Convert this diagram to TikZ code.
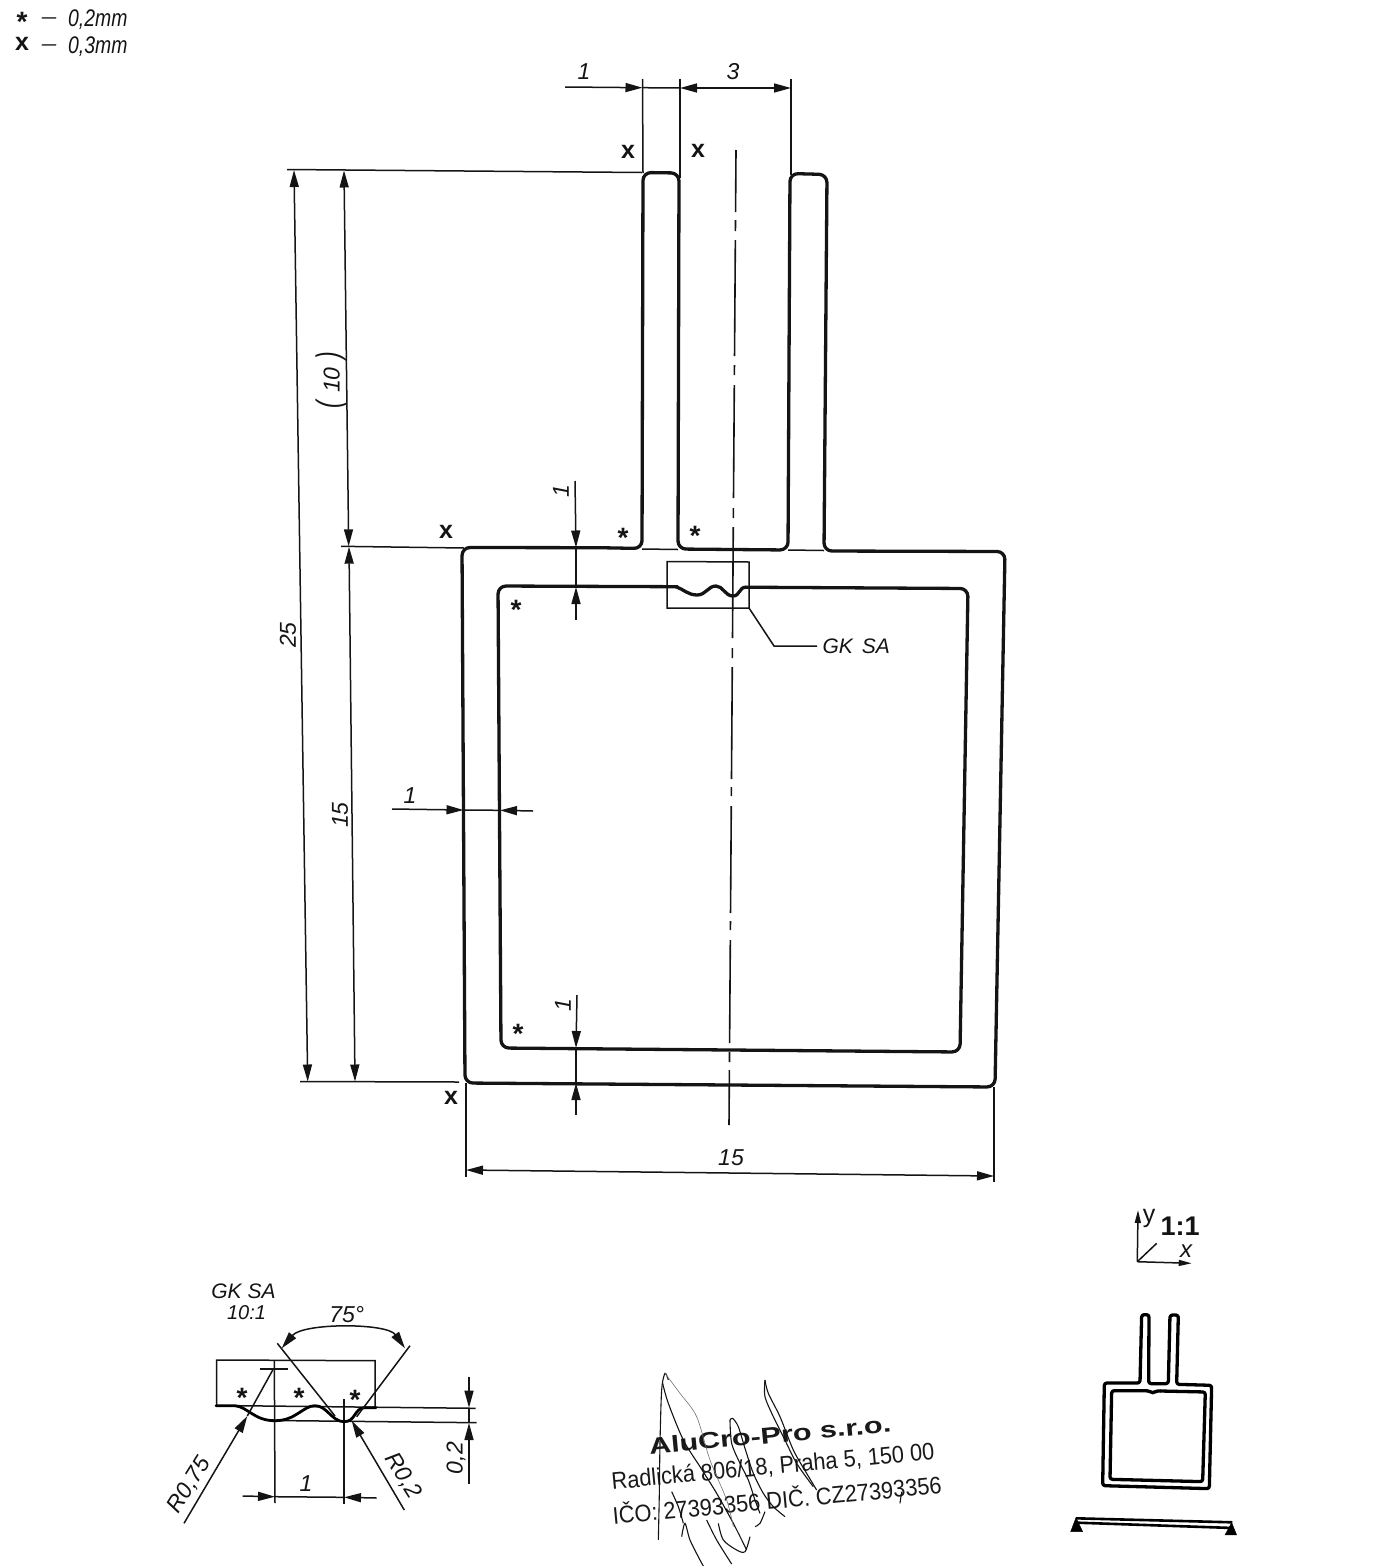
\documentclass[tikz,border=0pt]{standalone}
\usepackage{fontspec}
\usepackage{graphicx}
\setmainfont{Liberation Sans}
\usetikzlibrary{arrows.meta}
\definecolor{ink}{HTML}{141414}
\newcommand{\tallbox}[1]{\scalebox{0.97}[1.2]{#1}}
\tikzset{
  thick line/.style={draw=ink,line width=3.3pt,line join=round,rounded corners=8pt},
  thick curve/.style={draw=ink,line width=3.3pt,line join=round},
  fine/.style={draw=ink,line width=1.5pt},
  dim/.style={draw=ink,line width=1.5pt,>={Triangle[length=17pt,width=9pt]}},
  centre line/.style={draw=ink,line width=1.6pt},
  lab/.style={font=\fontsize{23}{24}\selectfont\itshape,inner sep=0pt,text=ink},
  mark star/.style={font=\fontsize{28}{28}\selectfont\bfseries,inner sep=0pt,text=ink},
  mark x/.style={font=\fontsize{25}{26}\selectfont\bfseries,inner sep=0pt,text=ink},
  legend/.style={font=\fontsize{20}{22}\selectfont\itshape,inner sep=0pt,text=ink},
  stamp/.style={font=\fontsize{24}{26}\selectfont,inner sep=0pt,text=black!90,rotate=5.4},
  sign/.style={draw=ink,line width=1.1pt},
  sign thin/.style={draw=ink!60,line width=.6pt},
  mini/.style={draw=black,line width=3.3pt,line join=round,rounded corners=2.5pt},
}
\begin{document}
\begin{tikzpicture}[x=1pt,y=-1pt]
\useasboundingbox (0,0) rectangle (1388,1566);

% legend
\node[mark star] (ls) at (22,22) {*};
\node[legend] (ld1) at (49,21) {\scalebox{1.3}[1]{\textendash}};
\node[legend,anchor=west] (lt1) at (68,20) {\tallbox{0,2mm}};
\node[mark x] (lx) at (22,44) {x};
\node[legend] (ld2) at (49,48) {\scalebox{1.3}[1]{\textendash}};
\node[legend,anchor=west] (lt2) at (68,47) {\tallbox{0,3mm}};

% centre line
\foreach \a/\b in {150/212,220/231,240/356,365/375,385/498,508/518,527/638,648/658,667/779,787/796,806/913,921/930,940/1043,1052/1062,1070/1125}
  \draw[centre line] ({736-(\a-150)*7/975},\a) -- ({736-(\b-150)*7/975},\b);

% profile outer
\draw[thick line] (600,547.7) -- (642,548.5) -- (643,172.5) -- (679,173) -- (678,549) -- (788,550) -- (790,173.5) -- (827,174.5) -- (824,551) -- (1005,551.5) -- (995,1087) -- (465,1083) -- (462,547.5) -- cycle;
\draw[fine] (642,549) -- (678,549.5);
\draw[fine] (788,550) -- (824,550.5);
% profile inner
\draw[thick line] (745,587.2) -- (968,588.5) -- (960,1052) -- (501,1048) -- (498,586) -- (678,586.7);
\draw[thick curve,line cap=round] (676,586.7)
  .. controls (683,589) and (688,595) .. (697,595)
  .. controls (706,595) and (708,586) .. (716,586)
  .. controls (723,586) and (725,596) .. (733,596)
  .. controls (740,596) and (739,587) .. (746,587.2);
% detail frame and leader
\draw[fine] (667,561.5) -- (749,562) -- (749,608) -- (667,608) -- cycle;
\node[lab,anchor=west,outer sep=5.5pt,font=\fontsize{21}{24}\selectfont\itshape] (gk) at (817,646) {GK\hspace{9pt}SA};
\coordinate (lead) at (749,608);
\draw[fine] (lead) -- (774,646) -- (gk.west);

% dimension top
\draw[fine] (642.5,79) -- (643,173);
\draw[fine] (680,79) -- (680,178);
\draw[fine] (791,79) -- (791,175);
\draw[dim,->] (565,87) -- (642.5,87.7);
\draw[dim] (642.5,87.7) -- (680,88);
\draw[dim,<->] (680,88) -- (791,88);
\node[lab] (t1) at (584,72) {1};
\node[lab] (t3) at (733,72) {3};

% dimensions left
\draw[fine] (287,169.5) -- (642,172.5);
\draw[fine] (341,546.3) -- (464,548);
\draw[fine] (300,1081.5) -- (459,1082);
\draw[dim,<->] (294,170) -- (307.7,1081.5);
\draw[dim,<->] (344,170.5) -- (348.7,546.3);
\draw[dim,<->] (349,546.7) -- (355,1081.5);
\node[lab,rotate=90] (t25) at (288,635) {25};
\node[lab,rotate=90] (t15l) at (340,815) {15};
\node[lab,rotate=90] (t10) at (331,380) {\scalebox{1}[1.45]{(}\hspace{8pt}10\hspace{8pt}\scalebox{1}[1.45]{)}};

% wall thickness dims
\draw[dim,->] (575,481) -- (576,547.5);
\draw[fine] (576,547.5) -- (576,587);
\draw[dim,<-] (576,587) -- (576,620);
\node[lab,rotate=90] (tw1) at (561,491) {1};
\draw[dim,->] (577,995) -- (576,1048);
\draw[fine] (576,1048) -- (576,1083);
\draw[dim,<-] (576,1083) -- (576,1115);
\node[lab,rotate=90] (tw2) at (563,1005) {1};
\draw[dim,->] (392,809) -- (463.5,810);
\draw[fine] (463.5,810) -- (500,810.3);
\draw[dim,<-] (500,810.3) -- (533,811);
\node[lab] (tw3) at (410,796) {1};

% bottom dim
\draw[fine] (466,1083) -- (466,1177);
\draw[fine] (994,1087) -- (994,1182);
\draw[dim,<->] (466,1170) -- (994,1176);
\node[lab] (t15b) at (731,1158) {15};

% thickness marks main
\node[mark x] (x1) at (628,152) {x};
\node[mark x] (x2) at (698,151) {x};
\node[mark x] (x3) at (446,532) {x};
\node[mark x] (x4) at (451,1098) {x};
\node[mark star] (s1) at (623,537.5) {*};
\node[mark star] (s2) at (695,535.5) {*};
\node[mark star] (s3) at (516,609.5) {*};
\node[mark star] (s4) at (518,1033.5) {*};

% detail view
\node[lab,font=\fontsize{21}{24}\selectfont\itshape] (dgk) at (243.5,1291) {GK\hspace{6pt}SA};
\node[lab,font=\fontsize{20}{24}\selectfont\itshape] (d10) at (246.5,1313) {10:1};
\draw[fine] (216.7,1405.7) -- (216.7,1360) -- (375,1360.7) -- (375,1407.7);
\draw[fine] (237,1405.7) -- (475.7,1408.3);
\draw[fine] (275,1420.5) -- (476.7,1422.7);
\draw[fine] (274.3,1360) -- (275,1503);
\draw[fine] (260,1369) -- (287.7,1369);
\draw[fine] (344,1399.3) -- (344,1504);
\draw[draw=black,line width=2.8pt,line cap=round]
  (216,1405.7) -- (235,1405.7)
  .. controls (248,1407) and (254,1420.7) .. (275,1420.7)
  .. controls (296,1420.7) and (303,1405.7) .. (315,1405.7)
  .. controls (327,1405.7) and (332,1421.7) .. (344,1421.7)
  .. controls (356,1421.7) and (354,1407.7) .. (365,1407.7)
  -- (376,1407.7);
\draw[dim,->] (184,1523.3) -- (247.3,1416);
\draw[fine] (247.3,1416) -- (273.3,1369);
\draw[dim,->] (404.3,1510) -- (351.7,1420.7);
\draw[fine] (277.3,1343.3) -- (335,1416);
\draw[fine] (410,1345.7) -- (356.7,1416.7);
\draw[dim,<->] (281.7,1348.3) .. controls (303,1322.7) and (387,1322.7) .. (405,1348.3);
\draw[dim,->] (242.7,1496) -- (275,1496.7);
\draw[dim] (275,1496.7) -- (344,1497.3);
\draw[dim,<-] (344,1497.3) -- (376.7,1498);
\draw[dim,->] (469,1376.7) -- (469,1407.7);
\draw[fine] (469,1407.7) -- (469,1423);
\draw[dim,<-] (469,1423) -- (469,1484);
\node[lab] (d75) at (346.7,1315) {75°};
\node[lab] (d1) at (306,1484) {1};
\node[lab,rotate=90] (d02) at (456,1458) {0,2};
\node[lab,rotate=58] (dr75) at (189.5,1485) {R0,75};
\node[lab,rotate=-58] (dr2) at (403,1476) {R0,2};
\node[mark star] (s5) at (242,1397.5) {*};
\node[mark star] (s6) at (299,1397.5) {*};
\node[mark star] (s7) at (355,1399.5) {*};

% stamp
\node[stamp,font=\fontsize{23}{26}\selectfont\bfseries] (st1) at (770,1435) {\scalebox{1.33}[1]{AluCro-Pro s.r.o.}};
\node[stamp] (st2) at (773,1467) {\scalebox{0.91}[1]{Radlická 806/18, Praha 5, 150 00}};
\node[stamp] (st3) at (777,1498.5) {\scalebox{0.91}[1]{IČO: 27393356 DIČ. CZ27393356}};
\begin{scope}[shift={(600,1360)},x=0.3333pt,y=-0.3333pt]
  \draw[sign] plot[smooth] coordinates {(175,540) (178,400) (180,250) (185,90) (195,40) (205,60)};
  \draw[sign] plot[smooth] coordinates {(188,70) (205,130) (250,240) (300,320) (350,400) (400,490) (440,570)};
  \draw[sign thin] plot[smooth] coordinates {(195,40) (240,100) (290,170) (330,300) (380,420) (400,500)};
  \draw[sign] plot[smooth] coordinates {(390,180) (398,175) (415,200) (435,265) (460,340) (490,400) (520,440) (555,470)};
  \draw[sign] plot[smooth] coordinates {(390,180) (395,250) (420,310) (445,360) (465,420) (480,460)};
  \draw[sign] plot[smooth] coordinates {(495,60) (505,100) (540,170) (580,270) (620,340) (650,390)};
  \draw[sign] plot[smooth] coordinates {(495,60) (495,110) (520,170) (550,230) (590,310) (640,380)};
  \draw[sign] plot[smooth] coordinates {(215,395) (235,440) (250,490)};
  \draw[sign] plot[smooth] coordinates {(245,530) (255,490) (270,540) (300,600) (310,618)};
  \draw[sign] plot[smooth] coordinates {(320,480) (350,540) (395,612)};
  \draw[sign] plot[smooth] coordinates {(355,490) (370,540) (410,570) (435,575) (450,530)};
  \draw[sign] plot[smooth] coordinates {(465,500) (480,490) (495,455)};
  \draw[sign] (905,395) -- (900,430);
\end{scope}

% scale 1:1 and small view
\draw[fine,>={Triangle[length=13pt,width=6pt]},->] (1137.3,1261.7) -- (1138,1210);
\draw[fine,>={Triangle[length=13pt,width=6pt]},->] (1137.3,1261.7) -- (1191.7,1263.3);
\draw[fine] (1137.3,1261.7) -- (1156.7,1243.3);
\node[inner sep=0pt,font=\fontsize{25}{26}\selectfont,text=ink] (ay) at (1149,1218) {y};
\node[inner sep=0pt,font=\fontsize{27}{28}\selectfont\bfseries,text=ink] (sc) at (1180,1226) {1:1};
\node[lab,font=\fontsize{24}{26}\selectfont\itshape] (ax) at (1186,1251) {x};
\begin{scope}[shift={(1050,1200)},x=0.3333pt,y=-0.3333pt]
  \draw[mini] (250,549) -- (270,549) -- (275,344) -- (297,344) -- (296,551) -- (355,551) -- (360,345) -- (385,345) -- (380,553) -- (485,556) -- (478,866) -- (158,857) -- (163,549) -- cycle;
  \draw[mini] (330,573) -- (466,576) -- (458,845) -- (180,838) -- (185,572) -- (292,572);
  \draw[draw=black,line width=3.3pt] (290,572) .. controls (300,572) and (302,578) .. (308,578) .. controls (314,578) and (316,572) .. (332,573);
  \draw[draw=black,line width=2.6pt] (78,955) -- (547,967);
  \draw[draw=black,line width=2.6pt] (78,968) -- (547,984);
  \draw[draw=black,fill=black] (78,953) -- (62,995) -- (98,995) -- cycle;
  \draw[draw=black,fill=black] (545,968) -- (525,1005) -- (560,1005) -- cycle;
\end{scope}
\end{tikzpicture}
\end{document}
